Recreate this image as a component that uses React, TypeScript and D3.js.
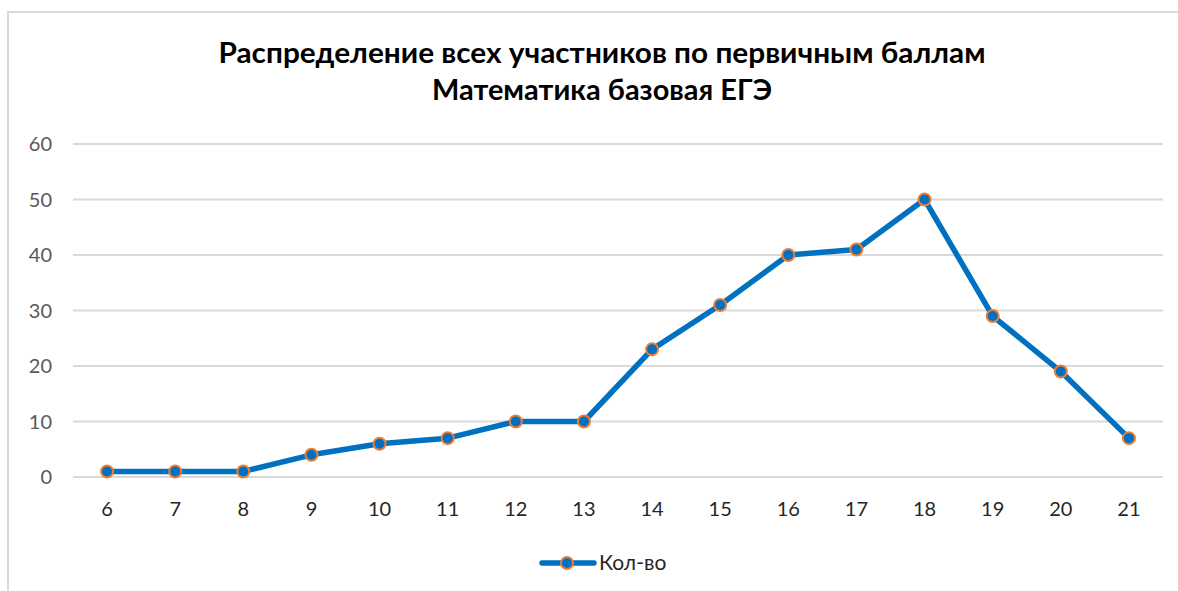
import React from "react";
import * as d3 from "d3";

const categories: string[] = ["6", "7", "8", "9", "10", "11", "12", "13", "14", "15", "16", "17", "18", "19", "20", "21"];
const values: number[] = [1, 1, 1, 4, 6, 7, 10, 10, 23, 31, 40, 41, 50, 29, 19, 7];
const yTicks: number[] = [0, 10, 20, 30, 40, 50, 60];
const titleLines: string[] = ["Распределение всех участников по первичным баллам", "Математика базовая ЕГЭ"];
const titleWidths: number[] = [767, 340];
const seriesName = "Кол-во";

const W = 1178;
const H = 591;
const FONT = "Lato, 'Open Sans', sans-serif";

export default function App() {
  const x = d3.scaleBand<string>().domain(categories).range([73, 1163]).padding(0);
  const y = d3.scaleLinear().domain([0, 60]).range([477, 144]);
  const cx = (c: string) => (x(c) as number) + x.bandwidth() / 2;
  const line = d3
    .line<number>()
    .x((_, i) => cx(categories[i]))
    .y((d) => y(d));

  return (
    <div style={{ position: "absolute", left: 0, top: 0 }}>
      <svg width={W} height={H} style={{ display: "block", background: "#fff" }}>
        <rect x={8} y={12} width={1200} height={620} fill="#fff" stroke="#d9d9d9" strokeWidth={2} />
        {titleLines.map((t, i) => (
          <text
            key={i}
            x={602}
            y={63 + i * 37}
            textAnchor="middle"
            fontFamily={FONT}
            fontWeight="bold"
            fontSize={28}
            fill="#000"
            textLength={titleWidths[i]}
            lengthAdjust="spacingAndGlyphs"
          >
            {t}
          </text>
        ))}
        {yTicks.map((t) => (
          <g key={t}>
            <line x1={73} x2={1163} y1={y(t)} y2={y(t)} stroke="#d9d9d9" strokeWidth={2} />
            <text x={52} y={y(t) + 7} textAnchor="end" fontFamily={FONT} fontSize={20} fill="#595959">
              {t}
            </text>
          </g>
        ))}
        {categories.map((c) => (
          <text key={c} x={cx(c)} y={516} textAnchor="middle" fontFamily={FONT} fontSize={20} fill="#262626">
            {c}
          </text>
        ))}
        <path d={line(values) || ""} fill="none" stroke="#0070C0" strokeWidth={5.5} strokeLinejoin="round" strokeLinecap="round" />
        {values.map((v, i) => (
          <circle key={i} cx={cx(categories[i])} cy={y(v)} r={6} fill="#0070C0" stroke="#ED7D31" strokeWidth={2} />
        ))}
        <g>
          <line x1={542} x2={594} y1={563} y2={563} stroke="#0070C0" strokeWidth={5.5} strokeLinecap="round" />
          <circle cx={567} cy={563} r={6} fill="#0070C0" stroke="#ED7D31" strokeWidth={2} />
          <text x={599} y={570} fontFamily={FONT} fontSize={21} fill="#262626">
            {seriesName}
          </text>
        </g>
      </svg>
    </div>
  );
}
